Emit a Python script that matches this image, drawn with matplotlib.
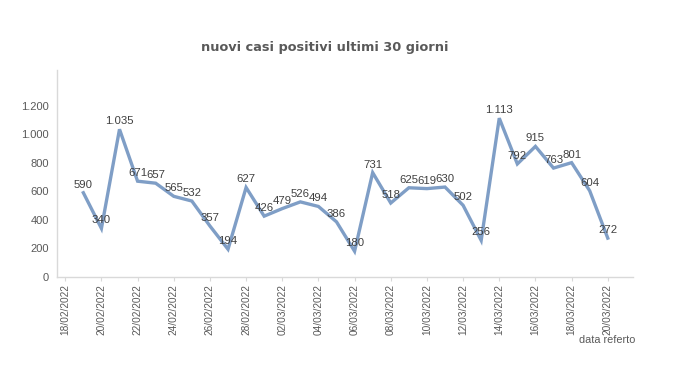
import numpy as np
import matplotlib.pyplot as plt

# dates on the category axis (18/02/2022 .. 20/03/2022)
dates = ["18/02/2022", "19/02/2022", "20/02/2022", "21/02/2022", "22/02/2022",
         "23/02/2022", "24/02/2022", "25/02/2022", "26/02/2022", "27/02/2022",
         "28/02/2022", "01/03/2022", "02/03/2022", "03/03/2022", "04/03/2022",
         "05/03/2022", "06/03/2022", "07/03/2022", "08/03/2022", "09/03/2022",
         "10/03/2022", "11/03/2022", "12/03/2022", "13/03/2022", "14/03/2022",
         "15/03/2022", "16/03/2022", "17/03/2022", "18/03/2022", "19/03/2022",
         "20/03/2022"]
# first date has no value
casi = [np.nan, 590, 340, 1035, 671, 657, 565, 532, 357, 194, 627, 426, 479, 526,
        494, 386, 180, 731, 518, 625, 619, 630, 502, 256, 1113, 792, 915, 763,
        801, 604, 272]
yticks = [0, 200, 400, 600, 800, 1000, 1200]
ytick_labels = ["0", "200", "400", "600", "800", "1.000", "1.200"]


def fmt(v):
    return f"{int(v):,}".replace(",", ".")


fig = plt.figure(figsize=(6.8, 3.83), dpi=100)
ax = fig.add_axes([0.084, 0.277, 0.847, 0.540])

x = np.arange(len(dates))
ax.plot(x, casi, color="#7F9EC6", lw=2.4, solid_joinstyle="miter")

for xi, v in zip(x, casi):
    if np.isnan(v):
        continue
    ax.annotate(fmt(v), (xi, v), xytext=(0, 8), textcoords="offset pixels",
                ha="center", va="center", fontsize=8.2, color="#404040",
                family="Liberation Sans")

ax.set_xlim(-0.45, 31.4)
ax.set_ylim(0, 1450)
ax.set_yticks(yticks)
ax.set_yticklabels(ytick_labels)
ax.set_xticks(x[::2])
ax.set_xticklabels(dates[::2], rotation=90)

for s in ["top", "right"]:
    ax.spines[s].set_visible(False)
for s in ["left", "bottom"]:
    ax.spines[s].set_color("#D9D9D9")
    ax.spines[s].set_linewidth(1.0)

ax.tick_params(axis="y", length=0, pad=6, labelsize=8, labelcolor="#595959")
ax.tick_params(axis="x", length=3, color="#D9D9D9", pad=2, labelsize=7.3,
               labelcolor="#595959")
for lbl in ax.get_xticklabels() + ax.get_yticklabels():
    lbl.set_family("Liberation Sans")

fig.text(0.478, 0.875, "nuovi casi positivi ultimi 30 giorni", ha="center",
         va="center", fontsize=9.3, fontweight="bold", color="#595959")
fig.text(0.934, 0.112, "data referto", ha="right", va="center", fontsize=7.8,
         color="#595959", family="Liberation Sans")

fig.savefig("out.png", dpi=100)
